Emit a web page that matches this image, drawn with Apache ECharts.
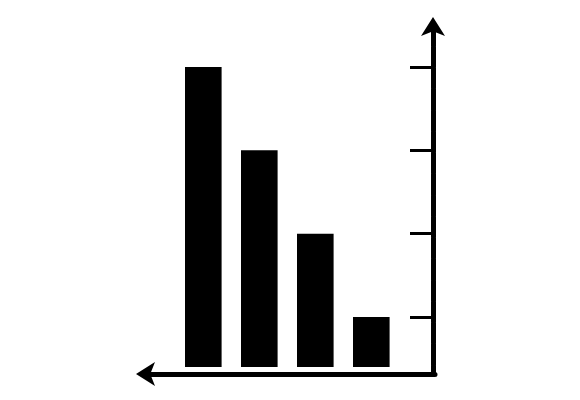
<!DOCTYPE html>
<html>
<head>
<meta charset="utf-8">
<script src="https://cdn.jsdelivr.net/npm/echarts@6/dist/echarts.min.js"></script>
<style>
html,body{margin:0;padding:0;background:#fff;}
#chart{width:580px;height:400px;}
</style>
</head>
<body>
<div id="chart"></div>
<script>
// Data
var categories = ['A', 'B', 'C', 'D'];
var positions = [1, 2, 3, 4];
var values = [18, 13, 8, 3];
var yTicks = [3, 8, 13, 18];

var chart = echarts.init(document.getElementById('chart'), null, {renderer: 'canvas'});
var seriesData = positions.map(function (p, i) { return {name: categories[i], value: [p, values[i]]}; });

chart.setOption({
  animation: false,
  backgroundColor: '#ffffff',
  grid: {left: 144, top: 24, right: 145, bottom: 26, containLabel: false},
  xAxis: {
    type: 'value',
    min: -0.059,
    max: 5.1375,
    axisLine: {
      show: true,
      onZero: false,
      symbol: ['arrow', 'none'],
      symbolSize: [18, 19],
      symbolOffset: [-8, 0],
      lineStyle: {color: '#000', width: 5, type: [20.25, 1], dashOffset: 18.7}
    },
    axisTick: {show: false},
    axisLabel: {show: false},
    splitLine: {show: false}
  },
  yAxis: {
    type: 'value',
    position: 'right',
    offset: -2,
    min: -0.42,
    max: 20.58,
    axisLine: {
      show: true,
      onZero: false,
      symbol: ['none', 'arrow'],
      symbolSize: [18, 19],
      symbolOffset: [0, 7],
      lineStyle: {color: '#000', width: 5, type: [20.25, 1], dashOffset: 11.75}
    },
    axisTick: {
      show: true,
      inside: true,
      length: 23,
      customValues: yTicks,
      lineStyle: {color: '#000', width: 3}
    },
    axisLabel: {show: false},
    splitLine: {show: false}
  },
  series: [{
    type: 'bar',
    data: seriesData,
    barWidth: 36.6,
    itemStyle: {color: '#000'},
    silent: true
  }]
});
</script>
</body>
</html>
